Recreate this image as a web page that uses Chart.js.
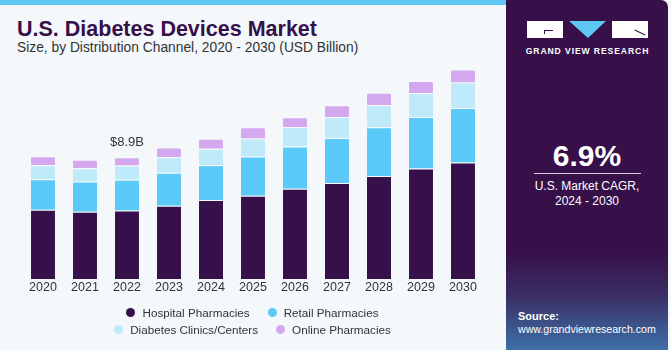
<!DOCTYPE html>
<html>
<head>
<meta charset="utf-8">
<script src="https://cdn.jsdelivr.net/npm/chart.js@4.4.1/dist/chart.umd.min.js"></script>
<style>
  html, body { margin:0; padding:0; }
  body { width:671px; height:350px; position:relative; overflow:hidden; background:#f4f8fb; font-family:"Liberation Sans", Arial, sans-serif; }
  #stripe { position:absolute; left:0; top:0; width:510px; height:5px; background:#5ec8f2; }
  #head { position:absolute; left:0; top:0; }
  #wrap { position:absolute; left:0; top:0; width:505px; height:350px; }
  #panel { position:absolute; left:506px; top:0; width:162px; height:350px; border-top-right-radius:7px;
    background:linear-gradient(to bottom, #37104a 0%, #37104a 72%, #3a2d63 84%, #3d6fa8 100%); }
  .blk { position:absolute; background:#ffffff; z-index:2; }
  .gl { position:absolute; background:#37104a; z-index:3; }
  #legend { position:absolute; left:0; width:505px; top:304px; font-size:11.7px; color:#333; }
  .row { display:flex; justify-content:center; gap:18px; height:17px; align-items:center; }
  .item { display:flex; align-items:center; }
  .dot { width:9px; height:9px; border-radius:50%; margin-right:7px; }
</style>
</head>
<body>
<div id="stripe"></div>
<svg id="head" width="505" height="60">
  <text x="17" y="36" fill="#37104a" font-family="Liberation Sans, Arial" font-weight="bold" font-size="21.5">U.S. Diabetes Devices Market</text>
  <text x="17" y="52" fill="#333" font-family="Liberation Sans, Arial" font-size="13.8">Size, by Distribution Channel, 2020 - 2030 (USD Billion)</text>
</svg>
<div id="wrap"><canvas id="c" width="505" height="350"></canvas></div>
<div id="legend"></div>
<div id="panel">
  <svg width="162" height="350" style="position:absolute;left:0;top:0">
    <polygon points="63,21 100,21 82,38" fill="#5ec8f2"/>
    <text x="81.5" y="54" text-anchor="middle" fill="#fff" font-family="Liberation Sans, Arial" font-weight="bold" font-size="8.6" letter-spacing="0.9">GRAND VIEW RESEARCH</text>
    <text x="81" y="166" text-anchor="middle" fill="#fff" font-family="Liberation Sans, Arial" font-weight="bold" font-size="30">6.9%</text>
    <line x1="28" y1="173.5" x2="135" y2="173.5" stroke="#d8cfe0" stroke-width="1"/>
    <text x="81" y="190" text-anchor="middle" fill="#fff" font-family="Liberation Sans, Arial" font-size="12">U.S. Market CAGR,</text>
    <text x="81" y="205" text-anchor="middle" fill="#fff" font-family="Liberation Sans, Arial" font-size="12">2024 - 2030</text>
    <text x="12" y="320" fill="#fff" font-family="Liberation Sans, Arial" font-weight="bold" font-size="11">Source:</text>
    <text x="12" y="333" fill="#fff" font-family="Liberation Sans, Arial" font-size="10.6">www.grandviewresearch.com</text>
  </svg>
  <div class="blk" style="left:21px;top:21px;width:36px;height:17px;"></div>
  <div class="gl" style="left:38px;top:30px;width:9px;height:1px;"></div>
  <div class="gl" style="left:38px;top:30px;width:1px;height:4px;"></div>
  <div class="blk" style="left:106px;top:21px;width:36px;height:17px;"></div>
  <div class="gl" style="left:128px;top:32px;width:12px;height:1px;transform:rotate(25deg);"></div>
</div>
<script>
const years = ["2020","2021","2022","2023","2024","2025","2026","2027","2028","2029","2030"];
const hospital = [5.06, 4.92, 5.01, 5.36, 5.77, 6.09, 6.60, 7.01, 7.53, 8.07, 8.51];
const retail   = [2.22, 2.20, 2.25, 2.40, 2.55, 2.86, 3.08, 3.30, 3.55, 3.76, 3.98];
const clinics  = [1.03, 0.98, 1.03, 1.14, 1.20, 1.32, 1.42, 1.52, 1.64, 1.76, 1.86];
const online   = [0.66, 0.62, 0.61, 0.71, 0.73, 0.81, 0.71, 0.86, 0.88, 0.88, 0.95];
const seriesNames = ["Hospital Pharmacies","Retail Pharmacies","Diabetes Clinics/Centers","Online Pharmacies"];
const seriesColors = ["#36104a","#5ccaf8","#bfeafa","#d4a8ee"];
const annotationYear = "2022";
const annotationText = "$8.9B";

const seriesData = [hospital, retail, clinics, online];

const legend = document.getElementById('legend');
[[0,1],[2,3]].forEach(pair => {
  const row = document.createElement('div'); row.className = 'row';
  pair.forEach(i => {
    const it = document.createElement('div'); it.className = 'item';
    const d = document.createElement('span'); d.className = 'dot'; d.style.background = seriesColors[i];
    const t = document.createElement('span'); t.textContent = seriesNames[i];
    it.appendChild(d); it.appendChild(t); row.appendChild(it);
  });
  legend.appendChild(row);
});

const annotate = {
  id: 'annotate',
  afterDatasetsDraw(chart) {
    const idx = years.indexOf(annotationYear);
    const last = chart.data.datasets.length - 1;
    const bar = chart.getDatasetMeta(last).data[idx];
    const ctx = chart.ctx;
    ctx.save();
    ctx.font = '13px "Liberation Sans", Arial';
    ctx.fillStyle = '#333';
    ctx.textAlign = 'center';
    ctx.textBaseline = 'bottom';
    ctx.fillText(annotationText, bar.x, bar.y - 8);
    ctx.restore();
  }
};

new Chart(document.getElementById('c'), {
  type: 'bar',
  data: {
    labels: years,
    datasets: seriesData.map((d, i) => ({
      label: seriesNames[i],
      data: d,
      backgroundColor: seriesColors[i],
      borderColor: 'rgba(255,255,255,0.35)',
      borderWidth: {top: 1, bottom: 0, left: 0, right: 0},
      borderSkipped: false,
      borderRadius: i === 3 ? {topLeft: 2, topRight: 2} : 0,
      categoryPercentage: 1,
      barPercentage: 0.571
    }))
  },
  options: {
    responsive: false,
    animation: false,
    events: [],
    layout: { padding: { left: 22, right: 21, top: 60, bottom: 54 } },
    plugins: { legend: { display: false }, tooltip: { enabled: false } },
    scales: {
      x: {
        stacked: true,
        grid: { display: false, drawTicks: false },
        border: { display: false },
        ticks: { color: '#333', font: { size: 12.5, family: '"Liberation Sans", Arial' }, padding: 1 }
      },
      y: {
        stacked: true, display: false, min: 0, max: 16
      }
    }
  },
  plugins: [annotate]
});
</script>
</body>
</html>
